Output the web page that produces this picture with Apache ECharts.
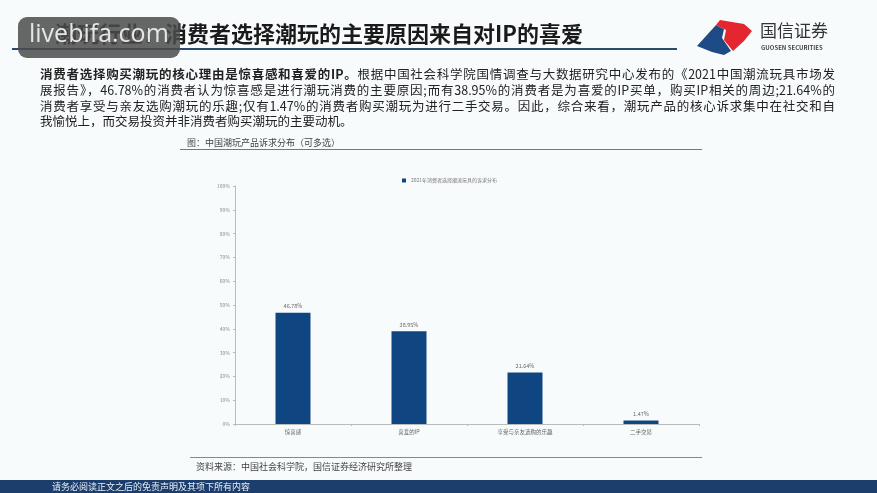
<!DOCTYPE html>
<html>
<head>
<meta charset="utf-8">
<script src="https://cdn.jsdelivr.net/npm/echarts@6/dist/echarts.min.js"></script>
<style>
  html,body{margin:0;padding:0;background:#f8fbfc;}
  #wrap{position:relative;width:877px;height:493px;overflow:hidden;}
  #chart{position:absolute;left:0;top:0;width:877px;height:493px;}
  .ln{position:absolute;left:40px;width:795px;font-family:"Noto Sans CJK SC","Noto Sans",sans-serif;font-size:12.5px;line-height:16px;color:#222;white-space:nowrap;}
  .j{text-align:justify;text-align-last:justify;white-space:normal;}
  .b{font-weight:bold;}
</style>
</head>
<body>
<div id="wrap">
  <div id="chart"></div>
  <div class="ln j" style="top:66px;"><span class="b">消费者选择购买潮玩的核心理由是惊喜感和喜爱的IP。</span>根据中国社会科学院国情调查与大数据研究中心发布的《2021中国潮流玩具市场发</div>
  <div class="ln j" style="top:82px;">展报告》，46.78%的消费者认为惊喜感是进行潮玩消费的主要原因;而有38.95%的消费者是为喜爱的IP买单，购买IP相关的周边;21.64%的</div>
  <div class="ln j" style="top:98px;">消费者享受与亲友选购潮玩的乐趣;仅有1.47%的消费者购买潮玩为进行二手交易。因此，综合来看，潮玩产品的核心诉求集中在社交和自</div>
  <div class="ln" style="top:113px;">我愉悦上，而交易投资并非消费者购买潮玩的主要动机。</div>
</div>
<script>
const categories = ['惊喜感', '喜爱的IP', '享受与亲友选购的乐趣', '二手交易'];
const values = [46.78, 38.95, 21.64, 1.47];
const valueLabels = ['46.78%', '38.95%', '21.64%', '1.47%'];
const seriesName = '2021年消费者选择潮流玩具的诉求分布';
const slideTitle = '潮玩行业：消费者选择潮玩的主要原因来自对IP的喜爱';
const figTitle = '图：中国潮玩产品诉求分布（可多选）';
const sourceText = '资料来源：中国社会科学院，国信证券经济研究所整理';
const footerText = '请务必阅读正文之后的免责声明及其项下所有内容';

const FONT = '"Noto Sans CJK SC","Noto Sans",sans-serif';
const chart = echarts.init(document.getElementById('chart'), null, {renderer: 'canvas'});

const option = {
  backgroundColor: '#f8fbfc',
  animation: false,
  textStyle: {fontFamily: FONT},
  legend: {
    left: 397, top: 173,
    itemWidth: 4, itemHeight: 4, itemGap: 4,
    textStyle: {fontSize: 5, color: '#777', fontFamily: FONT},
    data: [{name: seriesName, icon: 'rect'}]
  },
  grid: {left: 235, right: 178, top: 186, bottom: 69, containLabel: false},
  xAxis: {
    type: 'category',
    data: categories,
    axisLine: {lineStyle: {color: '#bbb', width: 1}},
    axisTick: {show: true, length: 2, lineStyle: {color: '#bbb'}},
    axisLabel: {fontSize: 5.5, color: '#666', margin: 5, fontFamily: FONT}
  },
  yAxis: {
    type: 'value',
    min: 0, max: 100, interval: 10,
    axisLine: {show: true, lineStyle: {color: '#bbb', width: 1}},
    axisTick: {show: true, length: 2, lineStyle: {color: '#bbb'}},
    splitLine: {show: false},
    axisLabel: {formatter: '{value}%', fontSize: 5, color: '#888', margin: 5, fontFamily: FONT}
  },
  series: [{
    name: seriesName,
    type: 'bar',
    data: values,
    barWidth: 35,
    itemStyle: {color: '#0f4682'},
    label: {
      show: true, position: 'top', distance: 4,
      fontSize: 5.5, color: '#666', fontFamily: FONT,
      formatter: p => valueLabels[p.dataIndex]
    }
  }],
  graphic: [
    // slide title
    {type: 'text', left: 55, top: 23, style: {text: slideTitle, fontSize: 22, fontWeight: 'bold', fill: '#1a1a1a', fontFamily: FONT}},
    {type: 'rect', shape: {x: 12, y: 48, width: 665, height: 2}, style: {fill: '#2a4a6e'}},
    // logo
    {type: 'polygon', shape: {points: [[697,46],[716,25],[724,29],[722,38],[731,51],[724,55],[712,52]]}, style: {fill: '#1e4a86'}},
    {type: 'polygon', shape: {points: [[716,25],[720,20],[744,24],[752,31],[744,41],[733,51],[724,40],[726,30]]}, style: {fill: '#e3262f'}},
    {type: 'text', left: 760, top: 22, style: {text: '国信证券', fontSize: 17, fill: '#333', fontFamily: FONT}},
    {type: 'text', left: 761, top: 45, style: {text: 'GUOSEN SECURITIES', fontSize: 6, fontWeight: 'bold', fill: '#444', fontFamily: FONT}},
    // figure header
    {type: 'text', left: 187, top: 138, style: {text: figTitle, fontSize: 9, fill: '#444', fontFamily: FONT}},
    {type: 'rect', shape: {x: 180, y: 149, width: 522, height: 1}, style: {fill: '#777'}},
    // source
    {type: 'rect', shape: {x: 190, y: 457, width: 512, height: 1}, style: {fill: '#888'}},
    {type: 'text', left: 196, top: 462, style: {text: sourceText, fontSize: 9, fill: '#444', fontFamily: FONT}},
    // footer bar
    {type: 'rect', shape: {x: 0, y: 480, width: 877, height: 13}, style: {fill: '#1c3e6c'}},
    {type: 'text', left: 52, top: 482, style: {text: footerText, fontSize: 9, fill: '#e8eef5', fontFamily: FONT}},
    // watermark
    {type: 'rect', z: 100, shape: {x: 18, y: 17, width: 162, height: 41, r: 9}, style: {fill: 'rgba(75,75,75,0.85)'}},
    {type: 'text', z: 101, left: 29, top: 22, style: {text: 'livebifa.com', fontSize: 25, fill: '#e6e6e6', fontFamily: '"Open Sans","DejaVu Sans",sans-serif'}}
  ]
};
chart.setOption(option);
</script>
</body>
</html>
